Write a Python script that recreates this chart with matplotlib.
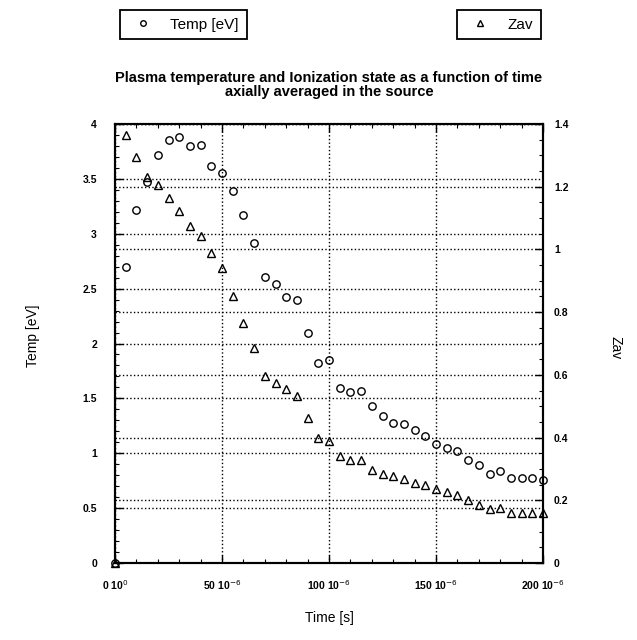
import numpy as np
import matplotlib
matplotlib.use('Agg')
import matplotlib.pyplot as plt
from matplotlib.ticker import MultipleLocator, FixedLocator, FixedFormatter
from matplotlib.lines import Line2D

plt.rcParams['font.family'] = ['Liberation Sans', 'DejaVu Sans']

# 시간 (μs)
time_us = [0, 5, 10, 15, 20, 25, 30, 35, 40, 45, 50, 55, 60, 65, 70, 75, 80, 85, 90, 95,
           100, 105, 110, 115, 120, 125, 130, 135, 140, 145, 150, 155, 160, 165, 170, 175,
           180, 185, 190, 195, 200]

# 플라즈마 온도 [eV]
temp_ev = [0, 2.70, 3.22, 3.47, 3.72, 3.85, 3.88, 3.80, 3.81, 3.62, 3.55, 3.39, 3.17, 2.92,
           2.61, 2.54, 2.42, 2.40, 2.10, 1.82, 1.85, 1.59, 1.56, 1.57, 1.43, 1.34, 1.28, 1.27,
           1.21, 1.16, 1.08, 1.05, 1.02, 0.94, 0.89, 0.81, 0.84, 0.77, 0.77, 0.77, 0.76]

# 평균 이온화 상태
zav = [0, 1.365, 1.294, 1.232, 1.204, 1.163, 1.124, 1.074, 1.044, 0.988, 0.941, 0.851, 0.764,
       0.687, 0.596, 0.573, 0.554, 0.533, 0.461, 0.398, 0.389, 0.340, 0.327, 0.329, 0.297,
       0.283, 0.276, 0.268, 0.255, 0.249, 0.236, 0.228, 0.217, 0.201, 0.185, 0.172, 0.175,
       0.161, 0.159, 0.159, 0.159]

x_ticks = [0, 50, 100, 150, 200]
x_tick_labels = ['0 10$^0$', '50 10$^{-6}$', '100 10$^{-6}$', '150 10$^{-6}$', '200 10$^{-6}$']

fig = plt.figure(figsize=(6.37, 6.40), dpi=100)
ax = fig.add_axes([115/637, 1-563/640, 428/637, 439/640])
ax2 = ax.twinx()

ax.plot(time_us, temp_ev, 'o', ms=5.3, mfc='none', mec='black', mew=1.0, clip_on=False, zorder=5)
ax2.plot(time_us, zav, '^', ms=5.3, mfc='none', mec='black', mew=1.0, clip_on=False, zorder=5)

ax.set_xlim(0, 200)
ax.set_ylim(0, 4)
ax2.set_ylim(0, 1.4)

ax.xaxis.set_major_locator(FixedLocator(x_ticks))
ax.xaxis.set_major_formatter(FixedFormatter(x_tick_labels))
ax.xaxis.set_minor_locator(MultipleLocator(10))
ax.yaxis.set_major_locator(MultipleLocator(0.5))
ax.yaxis.set_minor_locator(MultipleLocator(0.1))
ax2.yaxis.set_major_locator(MultipleLocator(0.2))
ax2.yaxis.set_minor_locator(MultipleLocator(0.05))
ax.yaxis.set_major_formatter(plt.FuncFormatter(lambda v, p: f'{v:g}'))
ax2.yaxis.set_major_formatter(plt.FuncFormatter(lambda v, p: f'{v:g}'))

# 점선 격자
ax.grid(True, which='major', linestyle=':', color='black', linewidth=1.0)
ax2.grid(True, which='major', axis='y', linestyle=':', color='black', linewidth=1.0)

ax.tick_params(axis='x', which='both', direction='in', top=True, pad=11, labelsize=7.5)
ax.tick_params(axis='x', which='major', length=6, width=1)
ax.tick_params(axis='x', which='minor', length=3, width=0.8)
ax.tick_params(axis='y', which='both', direction='in', pad=13, labelsize=7.5)
ax.tick_params(axis='y', which='major', length=6, width=1)
ax.tick_params(axis='y', which='minor', length=3, width=0.8)
ax2.tick_params(axis='y', which='both', direction='in', pad=8, labelsize=7.5)
ax2.tick_params(axis='y', which='major', length=6, width=1)
ax2.tick_params(axis='y', which='minor', length=3, width=0.8)
for a in (ax, ax2):
    for s in a.spines.values():
        s.set_linewidth(1.5)
    for lab in a.get_xticklabels() + a.get_yticklabels():
        lab.set_fontweight('bold')

ax.set_title('Plasma temperature and Ionization state as a function of time\n'
             'axially averaged in the source', fontsize=10.5, fontweight='bold',
             pad=20, linespacing=1.05)
ax.set_xlabel('Time [s]', fontsize=10)
ax.xaxis.set_label_coords(0.5, -0.11)
ax.set_ylabel('Temp [eV]', fontsize=10)
ax.yaxis.set_label_coords(-0.175, 0.517)
ax2.set_ylabel('Zav', fontsize=10, rotation=270)
ax2.yaxis.set_label_coords(1.185, 0.49)

# 범례 상자 두 개
h1 = Line2D([], [], marker='o', ls='none', ms=4, mfc='none', mec='black', mew=1)
h2 = Line2D([], [], marker='^', ls='none', ms=4, mfc='none', mec='black', mew=1)
leg_kw = dict(fontsize=11, fancybox=False, edgecolor='black', framealpha=1,
              borderpad=0.5, handlelength=2.0, handletextpad=0.8, borderaxespad=0)
leg1 = fig.legend([h1], ['Temp [eV]'], loc='upper left', bbox_to_anchor=(120/637, 1-10/640), **leg_kw)
leg1.get_frame().set_linewidth(1.3)
leg2 = fig.legend([h2], ['Zav'], loc='upper right', bbox_to_anchor=(541/637, 1-10/640), **leg_kw)
leg2.get_frame().set_linewidth(1.3)

plt.savefig('out.png', dpi=100)
